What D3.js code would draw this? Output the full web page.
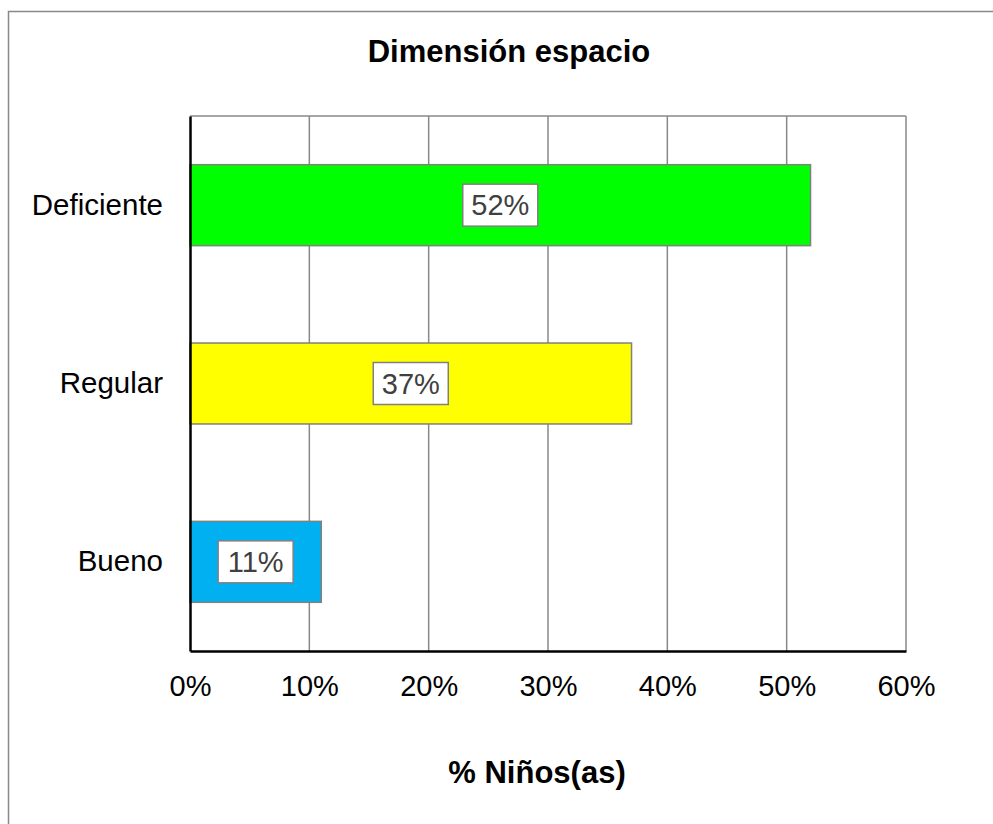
<!DOCTYPE html>
<html><head><meta charset="utf-8">
<script src="https://cdn.jsdelivr.net/npm/d3@7"></script>
<style>body{margin:0;background:#fff}svg{display:block}text{font-family:"Liberation Sans",Arial,sans-serif}</style>
</head><body>
<svg id="c" width="993" height="824"></svg>
<script>
const categories = ["Deficiente", "Regular", "Bueno"];
const values = [52, 37, 11];
const colors = ["#00ff00", "#ffff00", "#00b0f0"];
const ticks = [0, 10, 20, 30, 40, 50, 60];
const title = "Dimensión espacio";
const xTitle = "% Niños(as)";

const svg = d3.select("#c");
const m = {l:190, t:116, r:906, b:651};

svg.append("rect").attr("x",8.5).attr("y",11.5).attr("width",1000).attr("height",900)
  .attr("fill","#fff").attr("stroke","#888").attr("stroke-width",1.5);

const x = d3.scaleLinear().domain([0,60]).range([m.l,m.r]);
const y = d3.scaleBand().domain(categories).range([m.t,m.b]).paddingInner(0.546).paddingOuter(0.273);

// gridlines
svg.append("g").selectAll("line").data(ticks.filter(t=>t>0)).join("line")
  .attr("x1",d=>x(d)).attr("x2",d=>x(d)).attr("y1",m.t).attr("y2",m.b)
  .attr("stroke","#888").attr("stroke-width",1.5);
svg.append("line").attr("x1",m.l).attr("x2",m.r).attr("y1",m.t).attr("y2",m.t)
  .attr("stroke","#888").attr("stroke-width",1.5);

// bars
svg.append("g").selectAll("rect").data(categories).join("rect")
  .attr("x",x(0)).attr("y",d=>y(d)).attr("width",(d,i)=>x(values[i])-x(0)).attr("height",y.bandwidth())
  .attr("fill",(d,i)=>colors[i]).attr("stroke","#808080").attr("stroke-width",1.5);

// axes
const xa = svg.append("g").attr("transform",`translate(0,${m.b})`)
  .call(d3.axisBottom(x).tickValues(ticks).tickFormat(d=>d+"%").tickSize(0).tickPadding(24));
xa.select(".domain").attr("stroke","#000").attr("stroke-width",2.5);
xa.selectAll("text").attr("font-size",29).attr("fill","#000").attr("font-family","Liberation Sans, Arial, sans-serif");

const ya = svg.append("g").attr("transform",`translate(${m.l},0)`)
  .call(d3.axisLeft(y).tickSize(0).tickPadding(27));
ya.select(".domain").attr("stroke","#000").attr("stroke-width",2.5);
ya.selectAll("text").attr("font-size",29.5).attr("fill","#000").attr("font-family","Liberation Sans, Arial, sans-serif");

// data labels
const lg = svg.append("g").selectAll("g").data(categories).join("g")
  .attr("transform",(d,i)=>`translate(${(x(0)+x(values[i]))/2},${y(d)+y.bandwidth()/2})`);
lg.append("rect").attr("x",-37.5).attr("y",-21).attr("width",75).attr("height",42)
  .attr("fill","#fff").attr("stroke","#808080").attr("stroke-width",1.5);
lg.append("text").attr("text-anchor","middle").attr("dy","0.35em").attr("font-size",29)
  .attr("fill","#404040").text((d,i)=>values[i]+"%");

svg.append("text").attr("x",509).attr("y",62).attr("text-anchor","middle")
  .attr("font-size",31).attr("font-weight","bold").text(title);
svg.append("text").attr("x",537).attr("y",783).attr("text-anchor","middle")
  .attr("font-size",31).attr("font-weight","bold").text(xTitle);
</script>
</body></html>
